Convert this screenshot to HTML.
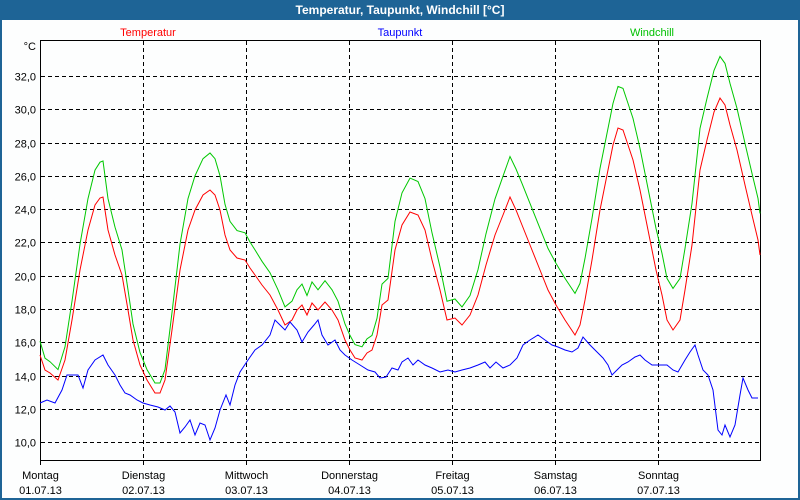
<!DOCTYPE html>
<html><head><meta charset="utf-8"><style>
html,body{margin:0;padding:0;width:800px;height:500px;overflow:hidden;background:#1e6496;}
</style></head><body>
<svg width="800" height="500" xmlns="http://www.w3.org/2000/svg" font-family="Liberation Sans, sans-serif" font-size="11">
<rect x="0" y="0" width="800" height="500" fill="#1e6496"/>
<rect x="2" y="20" width="796" height="478" fill="#fdfefe"/>
<text x="400" y="14" fill="#fff" font-weight="bold" font-size="12" text-anchor="middle">Temperatur, Taupunkt, Windchill [°C]</text>
<text x="148" y="36" fill="#ff0000" text-anchor="middle">Temperatur</text>
<text x="400" y="36" fill="#0000ff" text-anchor="middle">Taupunkt</text>
<text x="652" y="36" fill="#00c000" text-anchor="middle">Windchill</text>
<text x="36" y="50" text-anchor="end">°C</text>
<g id="grid" stroke="#000" stroke-dasharray="4,3" stroke-width="1"></g>
<g id="lbl"></g>
<rect x="40.5" y="40.5" width="720" height="420" fill="none" stroke="#000"/>
<polyline id="wc" fill="none" stroke="#00c800" stroke-width="1"/>
<polyline id="tp" fill="none" stroke="#ff0000" stroke-width="1"/>
<polyline id="dp" fill="none" stroke="#0000ff" stroke-width="1"/>
</svg>
<script>
var ns="http://www.w3.org/2000/svg";
var g=document.getElementById('grid'),l=document.getElementById('lbl');
function yv(v){return 76+(32-v)*16.64;}
for(var v=10;v<=32;v+=2){var y=Math.round(yv(v))+0.5;
 var e=document.createElementNS(ns,'line');e.setAttribute('x1',41);e.setAttribute('x2',760);e.setAttribute('y1',y);e.setAttribute('y2',y);g.appendChild(e);
 var t=document.createElementNS(ns,'text');t.setAttribute('x',36);t.setAttribute('y',y+4);t.setAttribute('text-anchor','end');t.textContent=v.toFixed(1).replace('.',',');l.appendChild(t);}
var days=['Montag','Dienstag','Mittwoch','Donnerstag','Freitag','Samstag','Sonntag'];
for(var k=0;k<7;k++){var x=40+103*k+0.5;
 if(k>0){var e=document.createElementNS(ns,'line');e.setAttribute('x1',x);e.setAttribute('x2',x);e.setAttribute('y1',41);e.setAttribute('y2',460);g.appendChild(e);}
 var tk=document.createElementNS(ns,'line');tk.setAttribute('x1',x);tk.setAttribute('x2',x);tk.setAttribute('y1',460);tk.setAttribute('y2',465);tk.setAttribute('stroke','#000');l.appendChild(tk);
 var t=document.createElementNS(ns,'text');t.setAttribute('x',x);t.setAttribute('y',479);t.setAttribute('text-anchor','middle');t.textContent=days[k];l.appendChild(t);
 t=document.createElementNS(ns,'text');t.setAttribute('x',x);t.setAttribute('y',494);t.setAttribute('text-anchor','middle');t.textContent='0'+(k+1)+'.07.13';l.appendChild(t);}
var T=[40,355,45,370,50,373,58,380,65,360,72,320,80,270,88,230,95,205,100,198,103,197,108,230,115,255,122,275,128,310,133,340,140,365,147,380,155,393,160,393,165,380,172,330,180,270,188,230,195,210,203,195,210,190,215,195,220,210,225,235,230,250,237,258,245,260,250,268,255,275,262,285,270,295,278,310,285,325,292,320,297,310,302,305,307,315,312,303,318,310,325,302,332,310,338,320,345,340,350,350,355,358,362,360,367,353,372,350,377,335,382,305,388,300,395,250,402,225,410,212,418,215,425,230,432,260,440,290,447,320,455,318,462,325,470,315,478,295,486,265,495,235,503,215,510,197,516,210,522,225,530,245,540,270,548,290,556,305,565,320,575,335,580,325,585,300,592,260,600,210,607,175,613,145,618,128,623,130,628,145,633,160,640,190,648,230,656,270,662,295,667,320,673,330,680,320,685,290,692,245,700,170,707,140,714,112,720,98,725,105,730,125,737,150,745,185,752,215,758,240,760,255];
var D=[40,403,47,400,55,403,62,390,67,375,72,375,78,375,83,388,88,370,95,360,103,355,108,365,115,375,120,385,125,393,130,395,137,400,143,403,150,405,158,407,165,410,170,406,175,412,180,433,185,427,190,420,195,435,200,423,205,425,210,440,215,428,220,410,226,395,230,405,235,385,240,372,248,360,255,350,262,345,270,335,275,320,280,325,285,330,290,322,297,330,302,342,308,332,314,325,318,320,322,335,328,345,335,340,340,350,345,355,352,360,360,365,368,370,375,372,380,378,386,377,392,368,398,370,402,362,408,358,413,365,418,360,425,365,432,368,440,372,448,370,455,372,462,370,470,368,478,365,485,362,490,368,496,362,503,368,510,365,517,358,523,345,530,340,538,335,545,340,552,345,558,347,565,350,572,352,578,348,583,337,590,345,597,352,603,358,608,365,612,375,617,370,622,365,628,362,635,357,640,355,645,360,652,365,660,365,667,365,673,370,678,372,685,360,690,352,695,345,698,355,703,370,708,375,713,390,718,430,722,435,725,425,730,437,735,425,740,395,743,378,748,390,752,398,758,398];
function pts(a,f){var s=[];for(var i=0;i<a.length;i+=2){s.push(a[i]+','+f(a[i+1],a[i]));}return s.join(' ');}
document.getElementById('tp').setAttribute('points',pts(T,function(y){return y;}));
document.getElementById('dp').setAttribute('points',pts(D,function(y){return y;}));
document.getElementById('wc').setAttribute('points',pts(T,function(y,x){var t=32-(y-76)/16.64;var o=Math.max(0.6,0.8+(t-15)*0.14);if(o>2.4)o=2.4;
 if(x>520)o=2.5;else if(x>470){var f=(x-470)/50;o=o*(1-f)+2.5*f;}
 return (y-o*16.64).toFixed(1);}));
</script>
</body></html>
